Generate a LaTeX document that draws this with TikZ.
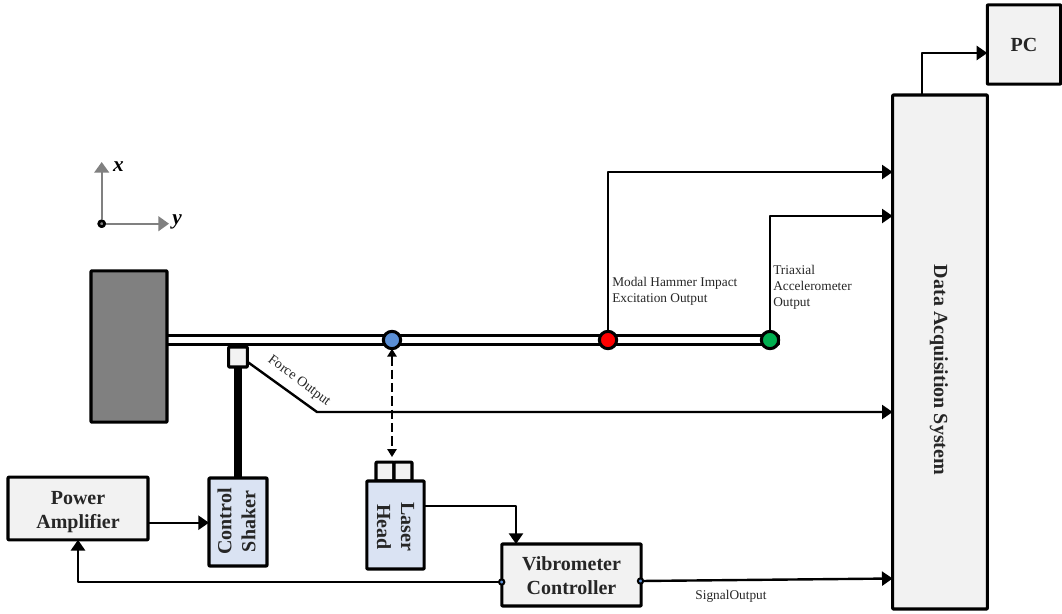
\documentclass[tikz,border=0pt]{standalone}
\usepackage{fontspec}
\setmainfont{Liberation Serif}
\usetikzlibrary{arrows.meta}
\definecolor{boxgray}{HTML}{F2F2F2}
\definecolor{boxblue}{HTML}{DAE3F3}
\definecolor{dotblue}{HTML}{5B8FD5}
\definecolor{dotred}{HTML}{FF0000}
\definecolor{dotgreen}{HTML}{00B050}
\definecolor{inkgray}{HTML}{262626}
\tikzset{
  block/.style={draw,line width=2.3pt,fill=boxgray,inner sep=0pt,outer sep=0pt,rounded corners=0.5pt},
  blockblue/.style={block,fill=boxblue},
  blocktext/.style={font=\bfseries\fontsize{15}{18}\selectfont,text=inkgray,align=center,inner sep=0pt},
  smalltext/.style={font=\fontsize{10}{12}\selectfont,text=inkgray,align=left,inner sep=0pt},
  axislabel/.style={font=\bfseries\itshape\fontsize{16}{16}\selectfont,inner sep=0pt},
  sensor/.style={circle,draw,line width=2.3pt,minimum size=13pt,inner sep=0pt,outer sep=0pt},
  port/.style={circle,draw,line width=1.5pt,fill=dotblue,minimum size=4pt,inner sep=0pt,outer sep=0pt},
  wire/.style={line width=1.8pt,line join=round,-{Triangle[length=8pt,width=10.5pt]}},
  axis/.style={line width=1.7pt,draw=gray,-{Triangle[length=8pt,width=11pt,fill=gray]}},
}
\begin{document}
\begin{tikzpicture}[x=0.75pt,y=-0.75pt,line join=round]
  \useasboundingbox (0,0) rectangle (1062,613);
  % axes
  \node[circle,draw,line width=2pt,fill=gray,minimum size=4.5pt,inner sep=0pt] (origin) at (101.7,223.7) {};
  \coordinate (xtip) at (101.7,162);
  \coordinate (ytip) at (169,223.7);
  \draw[axis] (origin) -- (xtip);
  \draw[axis] (origin) -- (ytip);
  \node[axislabel] (xlabel) at (118.5,166.5) {x};
  \node[axislabel] (ylabel) at (177,222) {y};
  % beam and wall
  \draw[line width=2.5pt,fill=white] (160,335.7) rectangle (778,344.3);
  \node[block,fill=gray,minimum width=57pt,minimum height=113.5pt] (wall) at (129,346.5) {};
  % blocks
  \node[block,minimum width=14pt,minimum height=15pt] (gauge) at (238,357) {};
  \node[blockblue,minimum width=43.5pt,minimum height=66pt] (shaker) at (238,522) {};
  \node[rotate=90,blocktext] (shakertext) at (236.5,521.5) {Control\\Shaker};
  \draw[line width=5.3pt] (gauge.south) -- (shaker.north);
  \node[block,minimum width=105pt,minimum height=47pt] (ampl) at (78,508.5) {};
  \node[blocktext] (ampltext) at (78,512) {Power\\Amplifier};
  \node[block,minimum width=13.5pt,minimum height=14pt] (lensa) at (385,471.5) {};
  \node[block,minimum width=13.5pt,minimum height=14pt] (lensb) at (403,471.5) {};
  \node[blockblue,minimum width=43pt,minimum height=66pt] (laser) at (395.5,525) {};
  \node[rotate=-90,blocktext] (lasertext) at (395.5,527) {Laser\\Head};
  \node[block,minimum width=104.5pt,minimum height=46.5pt] (vibro) at (571.5,575) {};
  \node[blocktext] (vibrotext) at (571.5,576) {Vibrometer\\Controller};
  \node[block,minimum width=71pt,minimum height=385.5pt] (daq) at (940,352) {};
  \node[rotate=-90,blocktext] (daqtext) at (939,370) {Data Acquisition System};
  \node[block,minimum width=55pt,minimum height=59.5pt] (pc) at (1024,44.5) {};
  \node[blocktext] (pctext) at (1024,44.5) {PC};
  % sensors on the beam
  \foreach \name/\px/\col in {laserdot/392/dotblue,hammerdot/608/dotred,acceldot/770/dotgreen} {
    \node[sensor,fill=\col] (\name) at (\px,340) {};
  }
  \node[port] (vibroin) at (501.7,582) {};
  \node[port] (vibroout) at (640.5,581) {};
  % connectors
  \coordinate (hammerbend) at (608,172);
  \coordinate (accelbend) at (770,216);
  \coordinate (gaugeout) at (247,361.5);
  \coordinate (forcebend) at (317,412);
  \coordinate (amplout) at (148,522.7);
  \coordinate (laserout) at (424,505.7);
  \coordinate (vibrotop) at (516,505.7);
  \coordinate (amplbend) at (78,582);
  \coordinate (daqtop) at (921.7,95);
  \coordinate (pcbend) at (921.7,53);
  \draw[wire] (hammerdot) -- (hammerbend) -- (hammerbend -| daq.west);
  \draw[wire] (acceldot) -- (accelbend) -- (accelbend -| daq.west);
  \draw[wire] (gaugeout) -- (forcebend) -- (forcebend -| daq.west);
  \draw[wire] (vibroout) -- (daq.west |- 0,578.5);
  \draw[wire] (amplout) -- (amplout -| shaker.west);
  \draw[wire] (vibroin) -- (amplbend) -- (ampl.south);
  \draw[wire] (laserout) -- (vibrotop) -- (vibrotop |- vibro.north);
  \draw[wire] (daqtop) -- (pcbend) -- (pcbend -| pc.west);
  \draw[line width=1.4pt,dash pattern=on 7pt off 3pt,{Triangle[length=6pt,width=7pt]}-{Triangle[length=6pt,width=7pt]}]
    (laserdot) -- (392,457);
  % texts
  \node[smalltext,anchor=west] (hammertext) at (612,291) {Modal Hammer Impact\\Excitation Output};
  \node[smalltext,anchor=west] (acceltext) at (773,287.5) {Triaxial\\Accelerometer\\Output};
  \node[smalltext,rotate=-37,font=\fontsize{10.5}{12}\selectfont] (forcetext) at (299,381) {Force Output};
  \node[smalltext] (signaltext) at (731,596.5) {SignalOutput};
\end{tikzpicture}
\end{document}
